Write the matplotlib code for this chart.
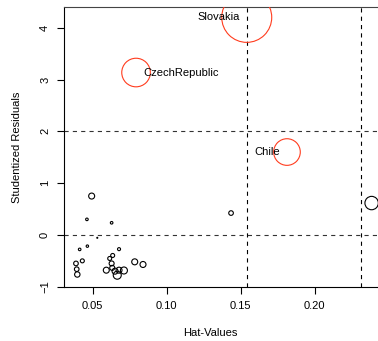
import numpy as np
import matplotlib
matplotlib.use('Agg')
import matplotlib.pyplot as plt

plt.rcParams['font.family'] = ['Liberation Sans', 'DejaVu Sans']
plt.rcParams['lines.scale_dashes'] = False

# influence plot data: hat values, studentized residuals, Cook's distance
names = ['Slovakia', 'CzechRepublic', 'Chile', '', '',
         '', '', '', '', '', '', '', '', '', '', '', '', '', '', '', '', '', '', '', '', '', '']
hat = [0.1541, 0.0793, 0.1813, 0.2385, 0.1435,
       0.0493, 0.0461, 0.0628, 0.0531, 0.0412, 0.0464, 0.0678, 0.0430, 0.0387, 0.0392,
       0.0396, 0.0635, 0.0615, 0.0628, 0.0592, 0.0632, 0.0651, 0.0666, 0.0678, 0.0711,
       0.0784, 0.0840]
rstud = [4.20, 3.135, 1.60, 0.615, 0.422,
         0.750, 0.300, 0.234, -0.056, -0.280, -0.217, -0.275, -0.501, -0.551, -0.662,
         -0.764, -0.397, -0.455, -0.551, -0.681, -0.636, -0.700, -0.778, -0.681, -0.687,
         -0.520, -0.571]
cook = [0.600, 0.196, 0.170, 0.043, 0.0051,
        0.0086, 0.0016, 0.0016, 0.00024, 0.0016, 0.0014, 0.0022, 0.0038, 0.0051, 0.0051,
        0.0070, 0.0038, 0.0038, 0.0060, 0.0086, 0.0060, 0.0086, 0.0154, 0.0086, 0.0118,
        0.0086, 0.0086]
mean_hat = 0.07705
xticks = [0.05, 0.10, 0.15, 0.20]
yticks = [-1, 0, 1, 2, 3, 4]

W, H = 378, 341
fig = plt.figure(figsize=(W / 100, H / 100), dpi=100)
ax = fig.add_axes([64 / W, 1 - 286.7 / H, (395 - 64) / W, (286.7 - 6.7) / H])
ax.set_xlim(0.03061, 0.2543)
ax.set_ylim(-1, 4.406)

# reference lines
for v in [2 * mean_hat, 3 * mean_hat]:
    ax.axvline(v, color='black', lw=0.8, ls=(0, (3, 3)), zorder=1)
for h in [-2, 0, 2]:
    ax.axhline(h, color='#333333', lw=0.8, ls=(0, (3, 3)), zorder=1)

cook = np.array(cook)
rad_px = 25 * np.sqrt(cook / cook.max())
sizes = (2 * rad_px * 0.72) ** 2
cols = ['#ff3c1e' if n else 'black' for n in names]
ax.scatter(hat, rstud, s=sizes, facecolors='none', edgecolors=cols,
           linewidths=0.8, zorder=3)

for n, x, y in zip(names, hat, rstud):
    if not n:
        continue
    if n == 'CzechRepublic':
        ax.annotate(n, (x, y), xytext=(5, 0), textcoords='offset points',
                    ha='left', va='center', fontsize=8)
    else:
        ax.annotate(n, (x, y), xytext=(-5, 0), textcoords='offset points',
                    ha='right', va='center', fontsize=8)

ax.set_xticks(xticks)
ax.set_xticklabels(['%.2f' % t for t in xticks])
ax.set_yticks(yticks)
ax.set_yticklabels([str(t).replace('-', '\u2212') for t in yticks], rotation=90, va='center')
ax.tick_params(direction='out', length=5, width=0.8, labelsize=8, pad=5, color='black')

ax.spines['right'].set_visible(False)
for s in ['left', 'bottom', 'top']:
    ax.spines[s].set_linewidth(0.8)
ax.spines['top'].set_color('#444444')

fig.text(210 / W, 1 - 333 / H, 'Hat-Values', ha='center', va='center', fontsize=8)
fig.text(17 / W, 1 - 147 / H, 'Studentized Residuals', ha='center', va='center',
         rotation=90, fontsize=8)

fig.savefig('out.png', dpi=100)
